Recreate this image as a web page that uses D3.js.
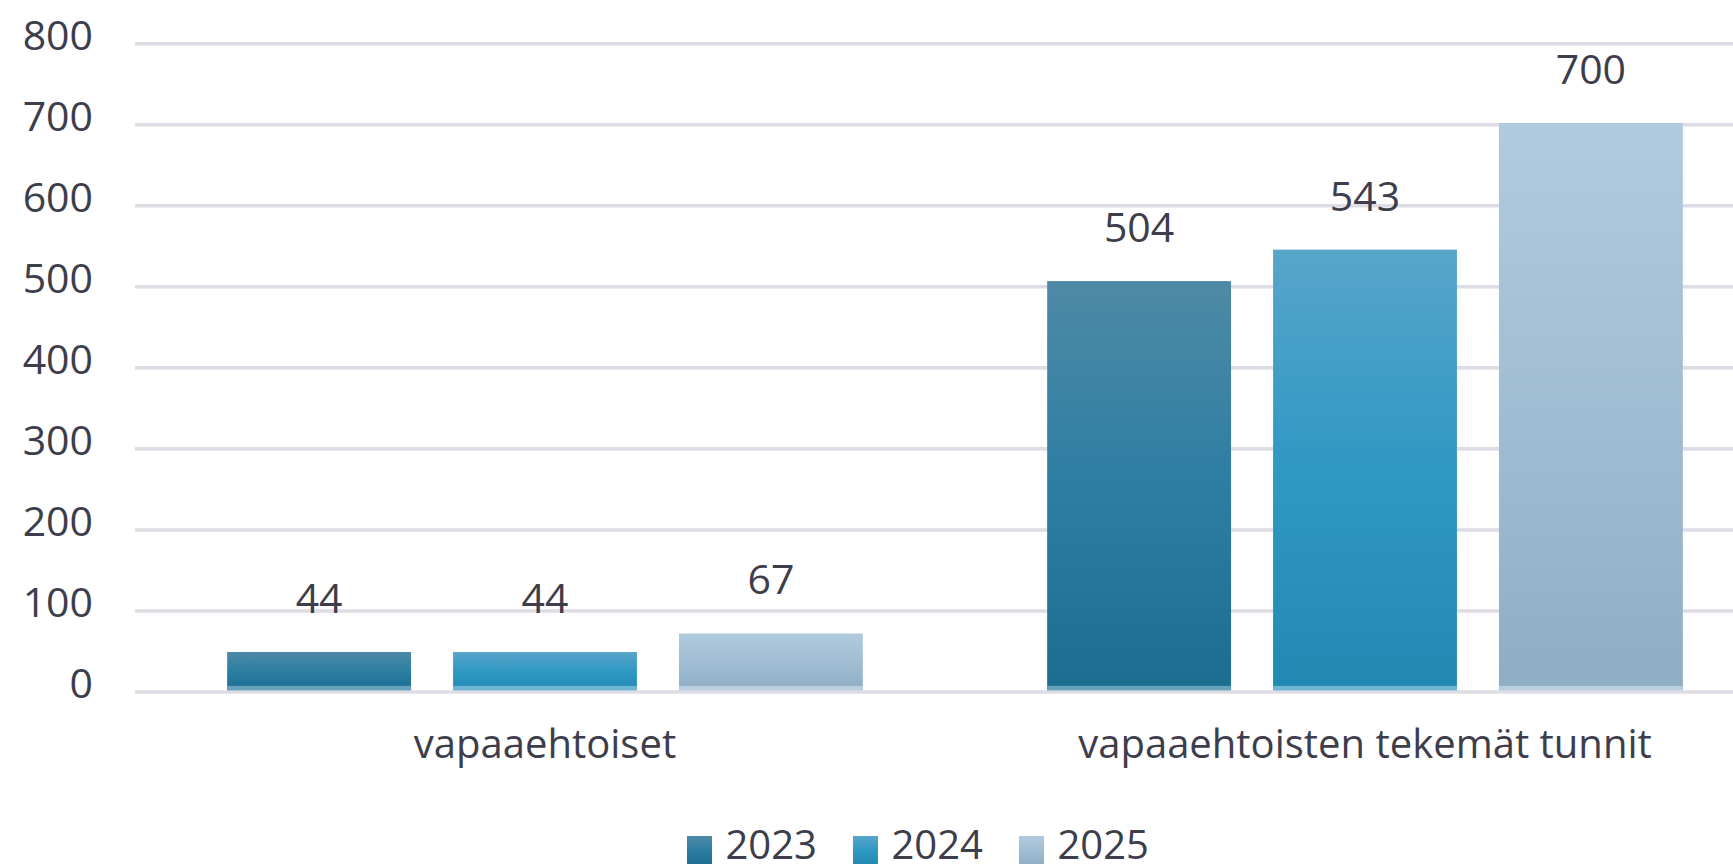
<!DOCTYPE html>
<html>
<head>
<meta charset="utf-8">
<script src="https://cdn.jsdelivr.net/npm/d3@7"></script>
<style>
  html, body { margin: 0; padding: 0; background: #fff; overflow: hidden; }
  text { font-family: "Open Sans", sans-serif; fill: #3d3d4c; }
</style>
</head>
<body>
<div id="chart"></div>
<script>
const categories = ['vapaaehtoiset', 'vapaaehtoisten tekemät tunnit'];
const years = ['2023', '2024', '2025'];
const values2023 = [44, 504];
const values2024 = [44, 543];
const values2025 = [67, 700];
const yTicks = [0, 100, 200, 300, 400, 500, 600, 700, 800];

const seriesValues = { '2023': values2023, '2024': values2024, '2025': values2025 };

// gradient stops per year: top -> bottom
const gradients = {
  '2023': ['#4f89a6', '#2c7ea3', '#1b6e90'],
  '2024': ['#58a5ca', '#2f98c3', '#2289b3'],
  '2025': ['#b0cbde', '#a1bdd3', '#8eaec6']
};
const stripColor = { '2023': '#68a3bb', '2024': '#6fb5d4', '2025': '#b9cfdf' };

const W = 1733, H = 864;
const plotLeft = 135, bandW = 820;

const svg = d3.select('#chart').append('svg')
  .attr('width', W)
  .attr('height', H);

const defs = svg.append('defs');
years.forEach(yr => {
  const g = defs.append('linearGradient')
    .attr('id', 'grad' + yr)
    .attr('x1', 0).attr('y1', 0).attr('x2', 0).attr('y2', 1);
  gradients[yr].forEach((c, i, arr) => {
    g.append('stop').attr('offset', i / (arr.length - 1)).attr('stop-color', c);
  });
});

// bars scale
const y = d3.scaleLinear()
  .domain([0, 800])
  .range([687.5, 42.4]);

// gridline scale (axis line sits just under the bars)
const yGrid = d3.scaleLinear()
  .domain([0, 800])
  .range([692, 43.7]);

const x0 = d3.scaleBand()
  .domain(categories)
  .range([plotLeft, plotLeft + bandW * categories.length]);

const x1 = d3.scaleBand()
  .domain(years)
  .range([0, x0.bandwidth()])
  .paddingInner(0.186)
  .paddingOuter(0.408);

// gridlines
svg.selectAll('line.grid')
  .data(yTicks)
  .enter().append('line')
  .attr('class', 'grid')
  .attr('x1', plotLeft)
  .attr('x2', W)
  .attr('y1', d => yGrid(d))
  .attr('y2', d => yGrid(d))
  .style('stroke', '#dedde5')
  .style('stroke-width', 3.6);

// y axis labels
svg.selectAll('text.ytick')
  .data(yTicks)
  .enter().append('text')
  .attr('class', 'ytick')
  .attr('x', 93)
  .attr('y', d => yGrid(d) + 6)
  .attr('text-anchor', 'end')
  .style('font-size', '41px')
  .text(d => d);

// bars
const rows = [];
categories.forEach((c, i) => {
  years.forEach(yr => rows.push({ cat: c, year: yr, value: seriesValues[yr][i] }));
});

const base = yGrid(0) - 1.8;

const groups = svg.selectAll('g.bar')
  .data(rows)
  .enter().append('g')
  .attr('class', 'bar')
  .attr('transform', d => `translate(${x0(d.cat) + x1(d.year)},0)`);

groups.append('rect')
  .attr('x', 0)
  .attr('y', d => y(d.value))
  .attr('width', x1.bandwidth())
  .attr('height', d => base - y(d.value))
  .style('fill', d => `url(#grad${d.year})`);

groups.append('rect')
  .attr('x', 0)
  .attr('y', base - 4.3)
  .attr('width', x1.bandwidth())
  .attr('height', 4.3)
  .style('fill', d => stripColor[d.year]);

// value labels
groups.append('text')
  .attr('x', x1.bandwidth() / 2)
  .attr('y', d => y(d.value) - 39)
  .attr('text-anchor', 'middle')
  .style('font-size', '41px')
  .text(d => d.value);

// category labels
svg.selectAll('text.cat')
  .data(categories)
  .enter().append('text')
  .attr('class', 'cat')
  .attr('x', d => x0(d) + x0.bandwidth() / 2)
  .attr('y', 758)
  .attr('text-anchor', 'middle')
  .style('font-size', '40px')
  .text(d => d);

// legend
const legend = svg.append('g').attr('transform', 'translate(687,0)');
let lx = 0;
years.forEach(yr => {
  legend.append('rect')
    .attr('x', lx)
    .attr('y', 836)
    .attr('width', 25)
    .attr('height', 29)
    .style('fill', `url(#grad${yr})`);
  const t = legend.append('text')
    .attr('x', lx + 38.5)
    .attr('y', 859)
    .style('font-size', '40px')
    .text(yr);
  lx += 38.5 + t.node().getComputedTextLength() + 36;
});
</script>
</body>
</html>
